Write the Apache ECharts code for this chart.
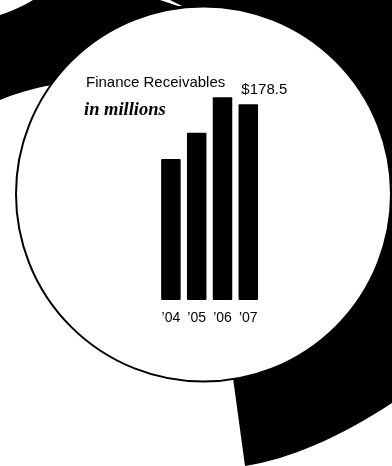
<!DOCTYPE html>
<html>
<head>
<meta charset="utf-8">
<script src="https://cdn.jsdelivr.net/npm/echarts@6/dist/echarts.min.js"></script>
<style>
html,body{margin:0;padding:0;background:#fff;}
#c{width:392px;height:466px;}
</style>
</head>
<body>
<div id="c"></div>
<script>
var categories = ['\u201904', '\u201905', '\u201906', '\u201907'];
var receivables = [128.6, 152.6, 184.9, 178.5];
var titleText = 'Finance Receivables';
var subtitleText = 'in millions';
var lastLabel = '$178.5';

function quad(p0, c, p2, n) {
  var pts = [];
  for (var i = 1; i <= n; i++) {
    var t = i / n, u = 1 - t;
    pts.push([u * u * p0[0] + 2 * u * t * c[0] + t * t * p2[0],
              u * u * p0[1] + 2 * u * t * c[1] + t * t * p2[1]]);
  }
  return pts;
}
var blackPts = [[33, 0], [392, 0], [392, 403]]
  .concat(quad([392, 403], [311.5, 455.5], [245, 466], 16))
  .concat([[233, 378], [52, 85]])
  .concat(quad([52, 85], [24, 90], [0, 100], 8))
  .concat([[0, 15]])
  .concat(quad([0, 15], [18, 9], [33, 0], 6));

var chart = echarts.init(document.getElementById('c'), null, {renderer: 'canvas'});
var option = {
  backgroundColor: '#ffffff',
  animation: false,
  title: [
    {text: titleText, left: 81, top: 70,
     textStyle: {fontFamily: 'Liberation Sans', fontSize: 15, fontWeight: 'normal', color: '#000'}},
    {text: subtitleText, left: 79, top: 96,
     textStyle: {fontFamily: 'Liberation Serif', fontSize: 18.5, fontStyle: 'italic', fontWeight: 'bold', color: '#000'}}
  ],
  graphic: [
    {type: 'polygon', z: 0, silent: true,
     shape: {points: blackPts},
     style: {fill: '#000'}},
    {type: 'polygon', z: 0, z2: 1, silent: true,
     shape: {points: [[160,0],[170,0],[182,6],[178,6]]},
     style: {fill: '#fff'}},
    {type: 'circle', z: 0, z2: 2, silent: true,
     shape: {cx: 203.5, cy: 194, r: 187.5},
     style: {fill: '#fff', stroke: '#000', lineWidth: 2}}
  ],
  grid: {left: 158, right: 130.8, top: 80.7, bottom: 166, containLabel: false},
  xAxis: {
    type: 'category', data: categories,
    axisLine: {show: false}, axisTick: {show: false}, splitLine: {show: false},
    axisLabel: {color: '#000', fontFamily: 'Liberation Sans', fontSize: 14, margin: 11}
  },
  yAxis: {
    type: 'value', min: 0, max: 200, show: false, splitLine: {show: false}
  },
  series: [{
    type: 'bar', data: receivables.map(function (v, i) {
      return i === receivables.length - 1
        ? {value: v, label: {show: true, formatter: lastLabel, position: 'top', distance: 7, offset: [16, 0],
            color: '#000', fontFamily: 'Liberation Sans', fontSize: 15}}
        : v;
    }),
    barWidth: 19.5,
    itemStyle: {color: '#000', borderRadius: 1},
    label: {show: false}
  }]
};
chart.setOption(option);
</script>
</body>
</html>
